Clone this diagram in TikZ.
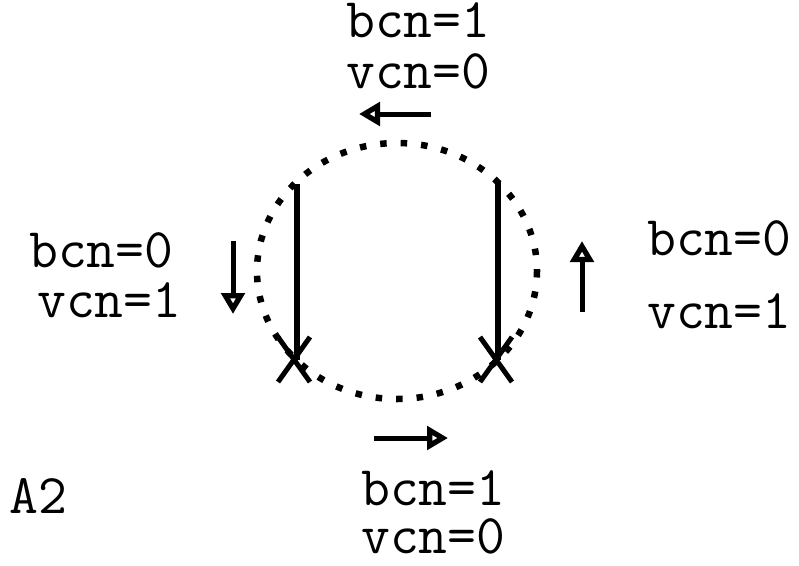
\documentclass[tikz,border=0pt]{standalone}
\usepackage{fontspec}
\usetikzlibrary{arrows.meta}
\begin{document}
\begin{tikzpicture}[x=1pt,y=-1pt,
  lbl/.style={anchor=base west,inner sep=0pt,font=\ttfamily\fontsize{56}{56}\selectfont},
  flow/.style={line width=5pt,-{Triangle[open,length=21pt,width=23pt,line width=7pt]}},
  wire/.style={line width=6pt},
  cross/.style={line width=5pt},
  dots/.style={line width=6.5pt,dash pattern=on 6.5pt off 14pt}]
\useasboundingbox (0,0) rectangle (799,565);
\draw[dots] (397,271) ellipse [x radius=140, y radius=128];
% vertical wires
\coordinate (l1) at (297,184); \coordinate (l2) at (297,360);
\coordinate (r1) at (498,182); \coordinate (r2) at (498,360);
\draw[wire] (l1) -- (l2);
\draw[wire] (r1) -- (r2);
% crosses
\coordinate (xa1) at (278,382); \coordinate (xa2) at (310,337);
\coordinate (xa3) at (278,337); \coordinate (xa4) at (310,382);
\draw[cross] (xa1) -- (xa2); \draw[cross] (xa3) -- (xa4);
\coordinate (xb1) at (480,382); \coordinate (xb2) at (512,337);
\coordinate (xb3) at (480,337); \coordinate (xb4) at (512,382);
\draw[cross] (xb1) -- (xb2); \draw[cross] (xb3) -- (xb4);
% arrows
\coordinate (ta) at (431,114); \coordinate (tb) at (359,114);
\draw[flow] (ta) -- (tb);
\coordinate (la) at (233,241); \coordinate (lb) at (233,314);
\draw[flow] (la) -- (lb);
\coordinate (ra) at (582,312); \coordinate (rb) at (582,241);
\draw[flow] (ra) -- (rb);
\coordinate (ba) at (374,438); \coordinate (bb) at (448,438);
\draw[flow] (ba) -- (bb);
% labels
\node[lbl] (t1) at (346,37) {bcn=1};
\node[lbl] (t2) at (346,88) {vcn=0};
\node[lbl] (lt1) at (29,267) {bcn=0};
\node[lbl] (lt2) at (37,317) {vcn=1};
\node[lbl] (rt1) at (647,255) {bcn=0};
\node[lbl] (rt2) at (647,328) {vcn=1};
\node[lbl] (b1) at (361,505) {bcn=1};
\node[lbl] (b2) at (361,553) {vcn=0};
\node[lbl] (a2) at (9,513) {A2};
\end{tikzpicture}
\end{document}
